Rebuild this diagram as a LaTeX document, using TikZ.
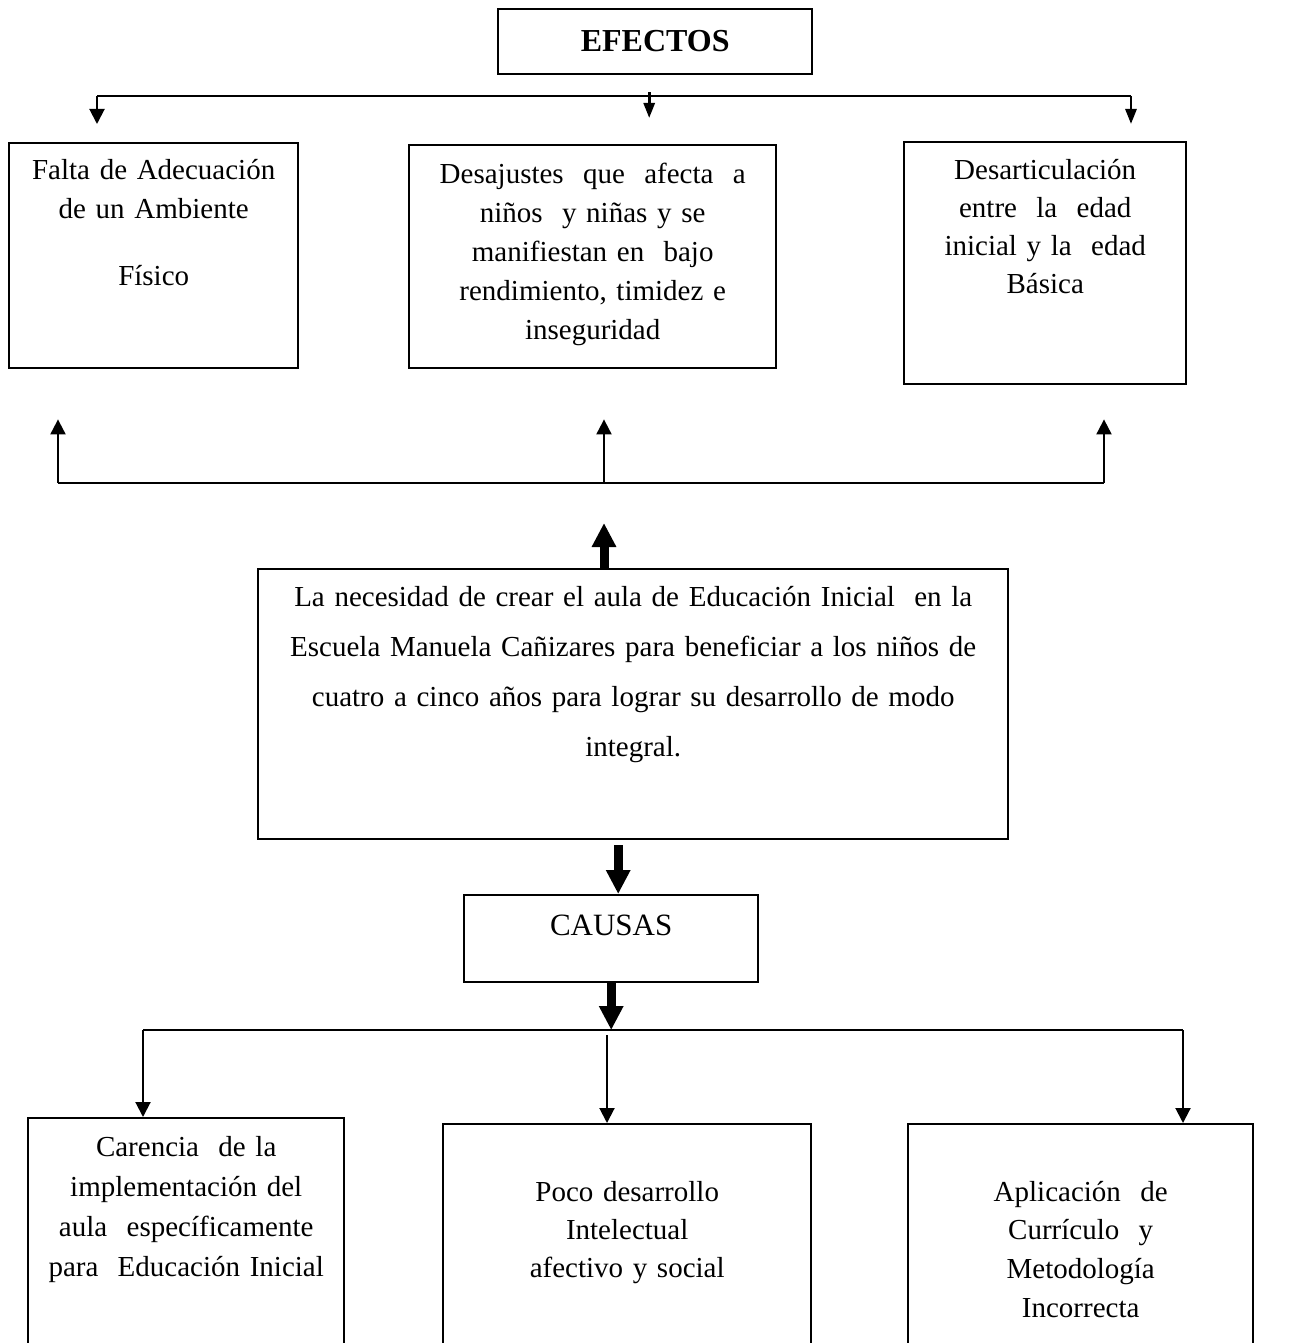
\documentclass[tikz,border=0pt]{standalone}
\usepackage{fontspec}
\setmainfont{Liberation Serif}
\usetikzlibrary{arrows.meta}

\begin{document}
\begin{tikzpicture}[x=0.5pt, y=-0.5pt,
  caja/.style={draw, line width=1.2pt, inner sep=0pt, anchor=north west, align=center,
    font=\fontsize{14.5}{19.5}\selectfont},
  linea/.style={line width=1pt},
  flecha/.style={line width=1pt, -{Triangle[length=7.5pt, width=7.5pt]}},
  punta/.style={line width=1.4pt, -{Triangle[length=7.5pt, width=5.5pt]}},
  gruesa/.style={line width=4.5pt, -{Triangle[length=12pt, width=11.5pt]}}]

  \clip (0,0) rectangle (1291,1343);

  % efectos
  \node[caja, text width=157pt, text height=21pt, text depth=11.5pt,
    font=\fontsize{16}{19}\selectfont\bfseries] (efectos) at (497,8) {EFECTOS};
  \node[caja, text width=144.5pt, text height=18pt, text depth=94.5pt] (efecto1) at (8,142)
    {Falta de Adecuación\\de un Ambiente\\[14pt]Físico};
  \node[caja, text width=183.5pt, text height=19pt, text depth=92.5pt] (efecto2) at (408,144)
    {Desajustes\ \ que\ \ afecta\ \ a\\niños\ \ y niñas y se\\manifiestan en\ \ bajo\\rendimiento, timidez e\\inseguridad};
  \node[caja, text width=141pt, text height=18.5pt, text depth=102.5pt,
    font=\fontsize{14.5}{19}\selectfont] (efecto3) at (903,141)
    {Desarticulación\\entre\ \ la\ \ edad\\inicial y la\ \ edad\\Básica};

  % problema central
  \node[caja, text width=375pt, text height=18.5pt, text depth=116.5pt,
    font=\fontsize{14.5}{25}\selectfont] (problema) at (257,568)
    {La necesidad de crear el aula de Educación Inicial\ \ en la\\Escuela Manuela Cañizares para beneficiar a los niños de\\cuatro a cinco años para lograr su desarrollo de modo\\integral.};

  % causas
  \node[caja, text width=147pt, text height=20pt, text depth=23.5pt,
    font=\fontsize{15.5}{19}\selectfont] (causas) at (463,894) {CAUSAS};
  \node[caja, text width=158pt, text height=19pt, text depth=102.5pt,
    font=\fontsize{14.5}{20}\selectfont] (causa1) at (27,1117)
    {Carencia\ \ de la\\implementación del\\aula\ \ específicamente\\para\ \ Educación Inicial};
  \node[caja, text width=184pt, text height=38.5pt, text depth=80pt,
    font=\fontsize{14.5}{19}\selectfont] (causa2) at (442,1123)
    {Poco desarrollo\\Intelectual\\afectivo y social};
  \node[caja, text width=172.5pt, text height=38.5pt, text depth=80pt,
    font=\fontsize{14.5}{19.3}\selectfont] (causa3) at (907,1123)
    {Aplicación\ \ de\\Currículo\ \ y\\Metodología\\Incorrecta};

  % lineas de arriba
  \coordinate (h1) at (97,96);
  \coordinate (h2) at (1131,96);
  \draw[linea] (h1) -- (h2);
  \draw[flecha, shorten >=9pt] (h1) -- (h1 |- efecto1.north);
  \draw[punta, shorten <=8.5pt, shorten >=13pt] ([xshift=-3pt]efectos.south) -- ([xshift=-3pt]efectos.south |- efecto2.north);
  \draw[punta, shorten >=8.5pt] (h2) -- (h2 |- efecto3.north);

  \coordinate (b1) at (58,483);
  \coordinate (b2) at (604,483);
  \coordinate (b3) at (1104,483);
  \draw[linea] (b1) -- (b3);
  \draw[flecha, shorten >=25pt] (b1) -- (b1 |- efecto1.south);
  \draw[flecha, shorten >=25pt] (b2) -- (b2 |- efecto2.south);
  \draw[flecha, shorten >=17pt] (b3) -- (b3 |- efecto3.south);
  \draw[gruesa, shorten >=20pt] (b2 |- problema.north) -- (b2);

  % lineas de abajo
  \draw[gruesa, shorten <=2.5pt] ([xshift=3.5pt]causas.north |- problema.south) -- ([xshift=3.5pt]causas.north);
  \coordinate (c1) at (143,1030);
  \coordinate (c2) at (607,1030);
  \coordinate (c3) at (1183,1030);
  \draw[linea] (c1) -- (c3);
  \draw[gruesa] (causas.south) -- (causas.south |- c2);
  \draw[flecha] (c1) -- (c1 |- causa1.north);
  \draw[flecha, shorten <=2.5pt] (c2) -- (c2 |- causa2.north);
  \draw[flecha] (c3) -- (c3 |- causa3.north);
\end{tikzpicture}
\end{document}
